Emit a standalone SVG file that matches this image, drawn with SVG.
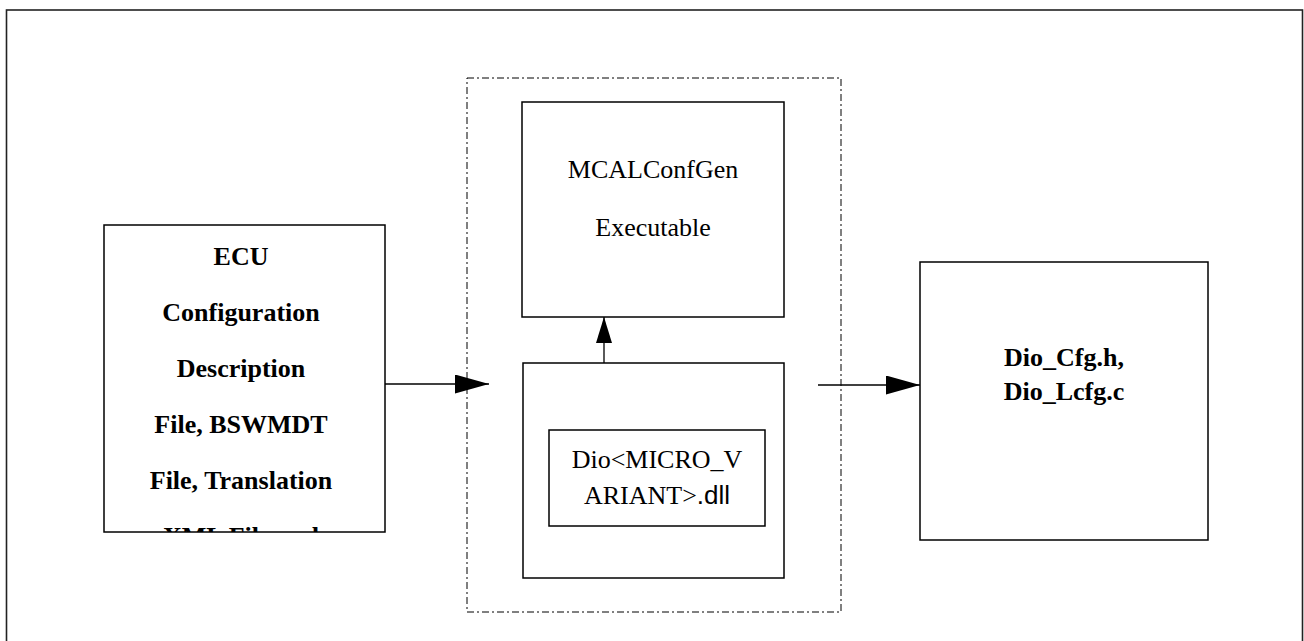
<svg xmlns="http://www.w3.org/2000/svg" width="1304" height="641" viewBox="0 0 1304 641">
  <style>
    .box { fill: #ffffff; stroke: #000000; stroke-width: 1.5; }
    .frame { fill: none; stroke: #222222; stroke-width: 1.6; }
    .group { fill: none; stroke: #000000; stroke-width: 1; stroke-dasharray: 7 3 2 3; }
    .wire { fill: none; stroke: #000000; stroke-width: 1.3; }
    .bold { font-family: "Liberation Serif", "Times New Roman", serif; font-size: 26px; font-weight: bold; text-anchor: middle; fill: #000000; }
    .reg { font-family: "Liberation Serif", "Times New Roman", serif; font-size: 26px; text-anchor: middle; fill: #000000; }
    .sans { font-family: "Liberation Sans", Arial, sans-serif; }
  </style>
  <defs>
    <marker id="headBig" viewBox="0 0 34 19" refX="34" refY="9.5" markerWidth="34" markerHeight="19" markerUnits="userSpaceOnUse" orient="auto">
      <path d="M0,0 L34,9.5 L0,19 Z" fill="#000000"/>
    </marker>
    <marker id="headUp" viewBox="0 0 26 16" refX="26" refY="8" markerWidth="26" markerHeight="16" markerUnits="userSpaceOnUse" orient="auto">
      <path d="M0,0 L26,8 L0,16 Z" fill="#000000"/>
    </marker>
    <clipPath id="ecuClip">
      <rect x="104" y="225" width="281" height="307"/>
    </clipPath>
  </defs>

  <rect width="1304" height="641" fill="#ffffff"/>
  <rect class="frame" x="6.5" y="10" width="1296" height="700"/>

  <!-- tool boundary -->
  <g id="toolGroup">
    <rect class="group" x="467" y="78" width="374" height="534"/>
  </g>

  <g id="ecuInput">
    <rect class="box" x="104" y="225" width="281" height="307"/>
    <g clip-path="url(#ecuClip)">
      <text class="bold" x="241" y="265">ECU</text>
      <text class="bold" x="241" y="321">Configuration</text>
      <text class="bold" x="241" y="377">Description</text>
      <text class="bold" x="241" y="433">File, BSWMDT</text>
      <text class="bold" x="241" y="489">File, Translation</text>
      <text class="bold" x="241" y="545">XML File and</text>
    </g>
  </g>

  <g id="confGen">
    <rect class="box" x="522" y="102" width="262" height="215"/>
    <text class="reg" x="653" y="178">MCALConfGen</text>
    <text class="reg" x="653" y="236">Executable</text>
  </g>

  <g id="pluginHost">
    <rect class="box" x="523" y="363" width="261" height="215"/>
  </g>

  <g id="dioDll">
    <rect class="box" x="549" y="430" width="216" height="96"/>
    <text class="reg" x="657" y="468">Dio&lt;MICRO_V</text>
    <text class="reg" x="657" y="504">ARIANT&gt;<tspan class="sans">.dll</tspan></text>
  </g>

  <g id="outputFiles">
    <rect class="box" x="920" y="262" width="288" height="278"/>
    <text class="bold" x="1064" y="366">Dio_Cfg.h,</text>
    <text class="bold" x="1064" y="400">Dio_Lcfg.c</text>
  </g>

  <g id="connectors">
    <line class="wire" x1="385" y1="384" x2="489" y2="384" marker-end="url(#headBig)"/>
    <line class="wire" x1="604" y1="363" x2="604" y2="317" marker-end="url(#headUp)"/>
    <line class="wire" x1="818" y1="385" x2="920" y2="385" marker-end="url(#headBig)"/>
  </g>
</svg>
